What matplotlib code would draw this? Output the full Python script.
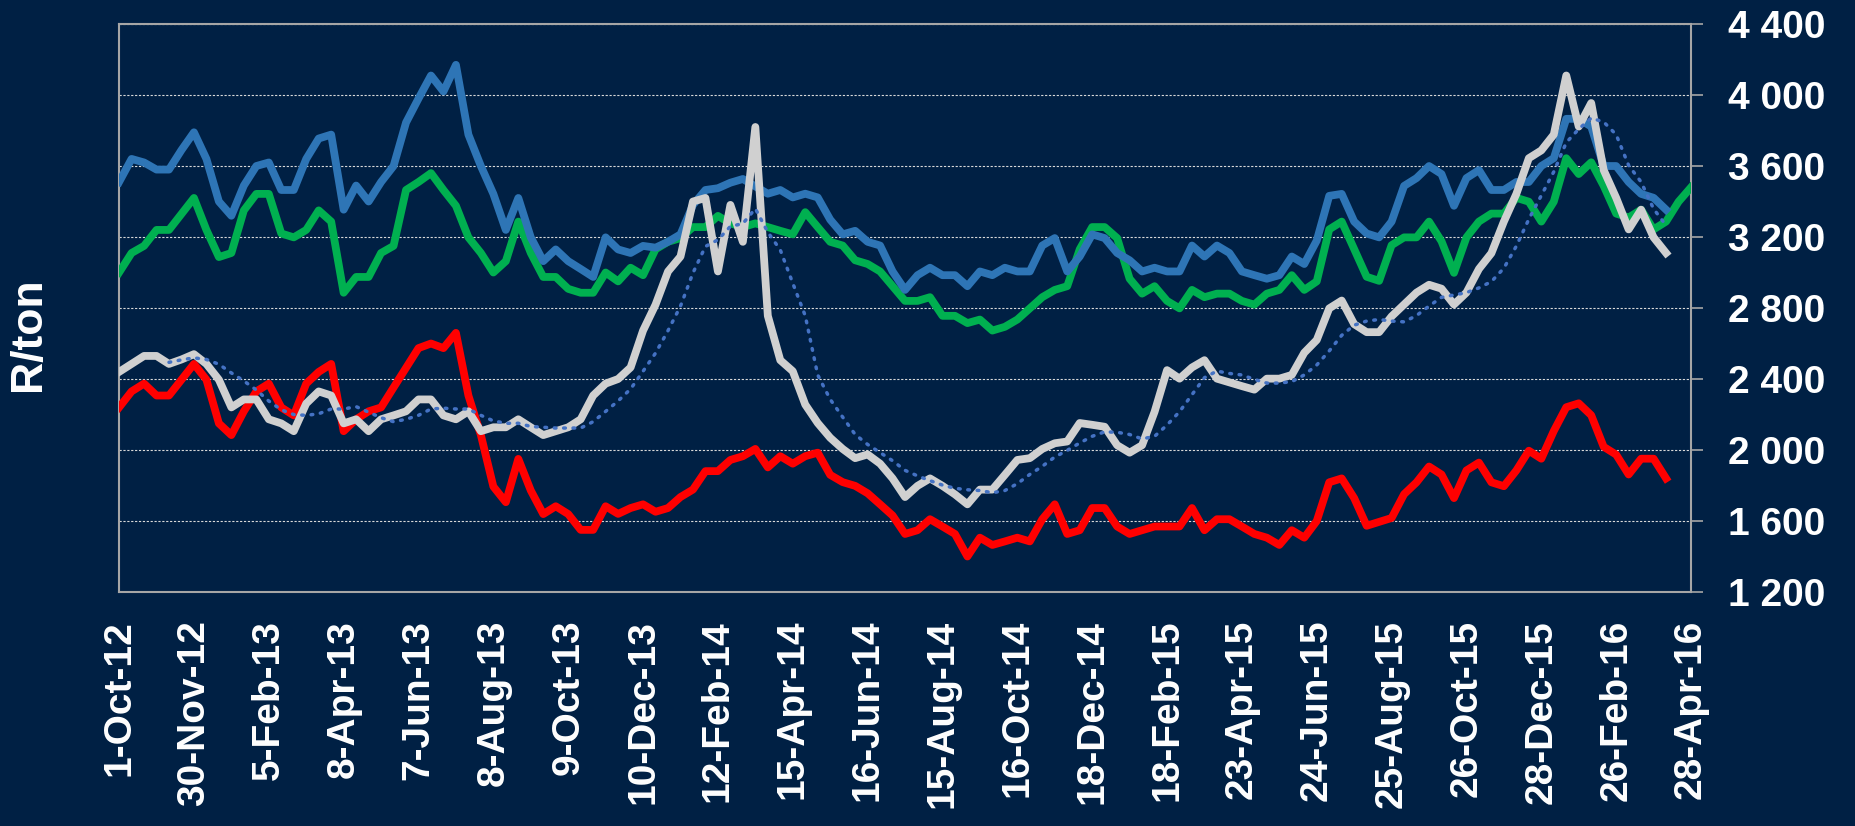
import numpy as np
import pandas as pd
import matplotlib
matplotlib.use("Agg")
import matplotlib.pyplot as plt
from matplotlib.ticker import FuncFormatter

plt.rcParams['font.family'] = ['Liberation Sans', 'DejaVu Sans']

# category labels on the x axis (one every STEP samples)
date_labels = ["1-Oct-12", "30-Nov-12", "5-Feb-13", "8-Apr-13", "7-Jun-13", "8-Aug-13",
               "9-Oct-13", "10-Dec-13", "12-Feb-14", "15-Apr-14", "16-Jun-14", "15-Aug-14",
               "16-Oct-14", "18-Dec-14", "18-Feb-15", "23-Apr-15", "24-Jun-15", "25-Aug-15",
               "26-Oct-15", "28-Dec-15", "26-Feb-16", "28-Apr-16"]
STEP = 6

# R/ton
blue = [3510, 3640, 3620, 3580, 3580, 3690, 3790, 3640, 3400, 3320, 3490, 3600, 3620, 3465,
        3465, 3640, 3755, 3777, 3354, 3490, 3400, 3510, 3600, 3845, 3980, 4110, 4020, 4170,
        3777, 3600, 3443, 3240, 3420, 3198, 3064, 3130, 3064, 3020, 2975, 3198, 3130, 3110,
        3150, 3140, 3173, 3215, 3381, 3465, 3475, 3506, 3527, 3485, 3444, 3465, 3423, 3444,
        3423, 3298, 3215, 3235, 3173, 3152, 3006, 2902, 2985, 3027, 2985, 2985, 2923, 3006,
        2985, 3027, 3006, 3006, 3152, 3194, 3006, 3090, 3215, 3194, 3110, 3069, 3006, 3027,
        3006, 3006, 3152, 3090, 3152, 3110, 3006, 2985, 2965, 2985, 3090, 3048, 3180, 3432,
        3443, 3287, 3220, 3198, 3287, 3488, 3532, 3600, 3555, 3376, 3532, 3577, 3465, 3465,
        3510, 3510, 3600, 3644, 3866, 3866, 3822, 3600, 3600, 3510, 3443, 3421, 3354]

green = [3000, 3110, 3150, 3240, 3240, 3330, 3420, 3240, 3087, 3110, 3350, 3443, 3443, 3220,
         3198, 3240, 3350, 3287, 2886, 2975, 2975, 3110, 3150, 3465, 3510, 3560, 3465, 3376,
         3198, 3110, 3000, 3064, 3287, 3110, 2975, 2975, 2908, 2886, 2886, 3000, 2950, 3027,
         2985, 3131, 3173, 3194, 3256, 3256, 3319, 3277, 3256, 3277, 3256, 3235, 3215, 3340,
         3256, 3173, 3152, 3069, 3048, 3006, 2923, 2840, 2840, 2861, 2756, 2756, 2715, 2735,
         2673, 2694, 2735, 2798, 2861, 2902, 2923, 3131, 3256, 3256, 3194, 2965, 2881, 2923,
         2840, 2798, 2902, 2861, 2881, 2881, 2840, 2819, 2881, 2902, 2985, 2902, 2950, 3243,
         3287, 3132, 2976, 2953, 3154, 3198, 3198, 3287, 3176, 2998, 3198, 3287, 3332, 3332,
         3421, 3399, 3287, 3399, 3644, 3555, 3621, 3488, 3332, 3310, 3354, 3243, 3287, 3399,
         3480]

white = [2440, 2485, 2530, 2530, 2485, 2510, 2540, 2485, 2396, 2240, 2285, 2285, 2173, 2150,
         2106, 2262, 2330, 2307, 2150, 2173, 2106, 2173, 2195, 2218, 2285, 2285, 2195, 2173,
         2218, 2106, 2128, 2128, 2173, 2128, 2084, 2106, 2128, 2173, 2307, 2374, 2400, 2465,
         2673, 2819, 3006, 3090, 3400, 3420, 3006, 3381, 3173, 3820, 2756, 2506, 2444, 2256,
         2152, 2069, 2006, 1954, 1975, 1923, 1840, 1735, 1798, 1840, 1798, 1750, 1694, 1777,
         1777, 1860, 1944, 1954, 2006, 2038, 2048, 2152, 2142, 2131, 2027, 1985, 2027, 2215,
         2450, 2402, 2465, 2506, 2402, 2381, 2360, 2340, 2402, 2402, 2423, 2548, 2620, 2798,
         2842, 2709, 2664, 2664, 2753, 2820, 2887, 2931, 2909, 2820, 2887, 3020, 3109, 3287,
         3443, 3644, 3688, 3777, 4110, 3822, 3955, 3577, 3421, 3243, 3354, 3198, 3110]

red = [2240, 2330, 2374, 2307, 2307, 2396, 2485, 2396, 2150, 2084, 2218, 2330, 2374, 2240,
       2195, 2374, 2440, 2485, 2106, 2173, 2218, 2240, 2352, 2463, 2574, 2600, 2574, 2660,
       2307, 2084, 1794, 1706, 1950, 1772, 1639, 1683, 1639, 1550, 1550, 1683, 1640, 1673,
       1694, 1652, 1673, 1735, 1777, 1881, 1881, 1944, 1965, 2006, 1902, 1965, 1923, 1965,
       1985, 1860, 1819, 1798, 1756, 1694, 1631, 1527, 1548, 1610, 1569, 1527, 1400, 1506,
       1465, 1485, 1506, 1485, 1610, 1694, 1527, 1548, 1673, 1673, 1569, 1527, 1548, 1569,
       1569, 1569, 1673, 1548, 1610, 1610, 1569, 1527, 1506, 1465, 1548, 1506, 1600, 1818,
       1840, 1729, 1573, 1595, 1617, 1751, 1818, 1907, 1862, 1729, 1885, 1929, 1818, 1796,
       1885, 1996, 1951, 2107, 2241, 2263, 2196, 2018, 1974, 1862, 1951, 1951, 1840]

BG = '#002044'
GRID = '#A6A6A6'

# moving-average trendline of the grey series
trend = pd.Series(white).rolling(5).mean()

fig = plt.figure(figsize=(18.55, 8.26), dpi=100, facecolor=BG)
ax = fig.add_axes([0.0642, 0.2833, 0.8474, 0.6876])
ax.set_facecolor(BG)

LW = 5.6
ax.plot(np.arange(len(red)), red, color='#FF0000', lw=LW, solid_joinstyle='round', zorder=3)
ax.plot(np.arange(len(green)), green, color='#00B050', lw=LW, solid_joinstyle='round', zorder=4)
ax.plot(np.arange(len(blue)), blue, color='#2E75B6', lw=LW, solid_joinstyle='round', zorder=5)
ax.plot(np.arange(len(white)), white, color='#D0D0D0', lw=LW, solid_joinstyle='round', zorder=6)
ax.plot(np.arange(len(trend)), trend, color='#4472C4', lw=2.5, linestyle=(0, (0.5, 2.2)),
        dash_capstyle='round', zorder=7)

ax.set_xlim(0, (len(date_labels) - 1) * STEP)
ax.set_ylim(1200, 4400)

ax.yaxis.tick_right()
ax.set_yticks(np.arange(1200, 4401, 400))
ax.yaxis.set_major_formatter(FuncFormatter(lambda v, p: f"{int(v):,}".replace(",", " ")))
ax.tick_params(axis='y', length=8.6, width=1.2, color=GRID, pad=18,
               labelsize=28, labelcolor='white')
for lbl in ax.get_yticklabels():
    lbl.set_fontweight('bold')

ax.set_xticks(np.arange(len(date_labels)) * STEP)
ax.set_xticklabels(date_labels, rotation=90, fontsize=28, fontweight='bold',
                   color='white', va='top', ha='center')
ax.tick_params(axis='x', length=0, pad=20)

ax.yaxis.grid(True, color='#D9D9D9', linestyle=(0, (2, 1.5)), linewidth=0.8)
ax.set_axisbelow(True)

for s in ax.spines.values():
    s.set_color(GRID)
    s.set_linewidth(1.5)

fig.text(0.0151, 0.5956, "R/ton", rotation=90, ha='center', va='center',
         fontsize=32, fontweight='bold', color='white')

fig.savefig("out.png", dpi=100, facecolor=BG)
